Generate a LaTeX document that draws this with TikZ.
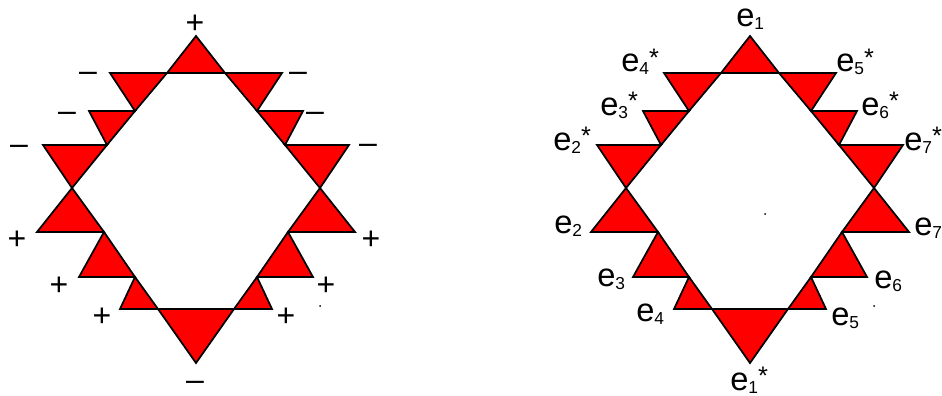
\documentclass[tikz,border=0pt]{standalone}
\usepackage{fontspec}
\setmainfont{Liberation Sans}
\newcommand\elab[2]{e\raisebox{-2.5pt}{\fontsize{13}{13}\selectfont#1}\raisebox{4pt}{\fontsize{19}{19}\selectfont#2}}

\begin{document}
\begin{tikzpicture}[
  x=0.75pt,y=-0.75pt,
  tri/.style={draw=black,fill=red,line width=1.3pt},
  sgn/.style={font=\fontsize{24}{24}\selectfont,inner sep=0pt,anchor=base},
  lbl/.style={font=\fontsize{24.5}{24}\selectfont,inner sep=0pt,anchor=base west},
  speck/.style={fill=black}
]
\useasboundingbox (0,0) rectangle (942,396);
\foreach \fx in {196,750}{
  \begin{scope}[shift={(\fx,0)}]
    \draw[tri] (0,36) -- (-29,73) -- (29,73) -- cycle;
    \draw[tri] (-38,309) -- (38,309) -- (0,363) -- cycle;
    \foreach \s in {1,-1}{
      \begin{scope}[xscale=\s]
        \draw[tri] (-86,73) -- (-29,73) -- (-61,111) -- cycle;
        \draw[tri] (-107,111) -- (-61,111) -- (-89,145) -- cycle;
        \draw[tri] (-153,145) -- (-89,145) -- (-124,188) -- cycle;
        \draw[tri] (-124,188) -- (-92,232) -- (-159,232) -- cycle;
        \draw[tri] (-92,232) -- (-61,277) -- (-117,277) -- cycle;
        \draw[tri] (-61,277) -- (-38,309) -- (-76,309) -- cycle;
      \end{scope}
    }
  \end{scope}
}
% signs
\node[sgn] (ptop) at (195,33) {+};
\node[sgn] (ml1) at (88,81) {–};
\node[sgn] (mr1) at (298,81) {–};
\node[sgn] (ml2) at (67,121) {–};
\node[sgn] (mr2) at (315,121) {–};
\node[sgn] (ml3) at (19,154) {–};
\node[sgn] (mr3) at (368,153) {–};
\node[sgn] (pl1) at (17,249) {+};
\node[sgn] (pr1) at (371,249) {+};
\node[sgn] (pl2) at (59,295) {+};
\node[sgn] (pr2) at (326,295) {+};
\node[sgn] (pl3) at (102,326) {+};
\node[sgn] (pr3) at (286,326) {+};
\node[sgn] (mbot) at (195,390) {–};
% labels
\node[lbl] (e1) at (736,26.5) {\elab{1}{}};
\node[lbl] (e4s) at (621,71.5) {\elab{4}{*}};
\node[lbl] (e5s) at (836,71.5) {\elab{5}{*}};
\node[lbl] (e3s) at (600,115) {\elab{3}{*}};
\node[lbl] (e6s) at (861,115) {\elab{6}{*}};
\node[lbl] (e2s) at (553,150) {\elab{2}{*}};
\node[lbl] (e7s) at (904,150) {\elab{7}{*}};
\node[lbl] (e2) at (554,233) {\elab{2}{}};
\node[lbl] (e7) at (914,235) {\elab{7}{}};
\node[lbl] (e3) at (597,286.5) {\elab{3}{}};
\node[lbl] (e6) at (874,288) {\elab{6}{}};
\node[lbl] (e4) at (636,321.5) {\elab{4}{}};
\node[lbl] (e5) at (831,325) {\elab{5}{}};
\node[lbl] (e1s) at (730,390) {\elab{1}{*}};
\fill[speck] (320,306) circle (1) (874,306) circle (1) (765,214) circle (1);
\end{tikzpicture}
\end{document}
